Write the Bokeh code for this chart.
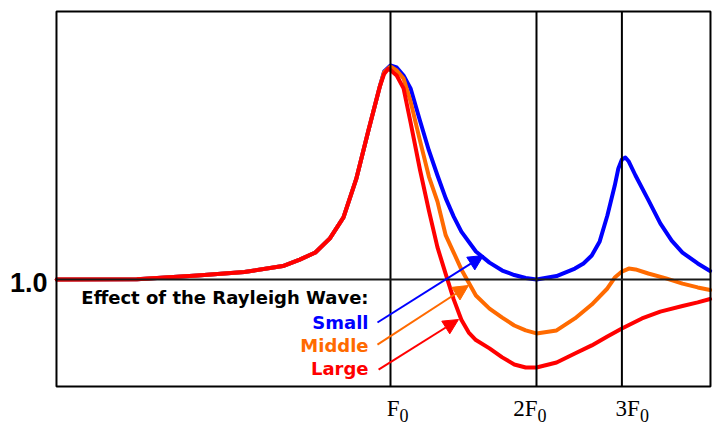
from bokeh.plotting import figure
from bokeh.models import Label, Arrow, NormalHead, Range1d, ColumnDataSource
from bokeh.embed import file_html
from bokeh.resources import INLINE

# Frequency ratio f / F0 (log axis) and amplification
freq_common = [0.205, 0.3, 0.4, 0.5, 0.6, 0.65, 0.7, 0.75, 0.8, 0.85, 0.9, 0.95]
amp_common = [1.0, 1.001, 1.019, 1.035, 1.063, 1.093, 1.126, 1.192, 1.29, 1.47, 1.694, 1.9]

freq_small = [0.97, 1.0, 1.03, 1.064, 1.1, 1.15, 1.2, 1.25, 1.3, 1.35, 1.4, 1.5, 1.6, 1.7,
              1.8, 1.9, 2.0, 2.2, 2.4, 2.5, 2.6, 2.7, 2.8, 2.9, 2.95, 3.0, 3.05, 3.1, 3.2,
              3.4, 3.6, 3.8, 4.0, 4.3, 4.56]
amp_small = [1.972, 2.0, 1.991, 1.953, 1.893, 1.743, 1.603, 1.486, 1.379, 1.294, 1.224, 1.131,
             1.079, 1.042, 1.021, 1.007, 1.0, 1.016, 1.051, 1.075, 1.112, 1.178, 1.299, 1.439,
             1.519, 1.561, 1.57, 1.551, 1.486, 1.372, 1.262, 1.182, 1.126, 1.075, 1.04]

freq_middle = [0.97, 1.0, 1.03, 1.064, 1.1, 1.15, 1.2, 1.25, 1.3, 1.35, 1.4, 1.5, 1.6, 1.7,
               1.8, 1.9, 2.0, 2.2, 2.4, 2.6, 2.8, 2.9, 3.0, 3.1, 3.2, 3.4, 3.7, 4.0, 4.3, 4.56]
amp_middle = [1.968, 1.995, 1.977, 1.939, 1.832, 1.65, 1.481, 1.364, 1.206, 1.126, 1.047,
              0.925, 0.864, 0.822, 0.785, 0.762, 0.748, 0.762, 0.818, 0.883, 0.958, 1.009,
              1.037, 1.051, 1.047, 1.028, 1.005, 0.981, 0.963, 0.951]

freq_large = [0.97, 0.99, 1.0, 1.03, 1.064, 1.1, 1.15, 1.2, 1.25, 1.3, 1.35, 1.4, 1.45, 1.5,
              1.6, 1.7, 1.8, 1.9, 2.0, 2.2, 2.4, 2.6, 2.8, 3.0, 3.3, 3.6, 4.0, 4.3, 4.56]
amp_large = [1.96, 1.985, 1.979, 1.953, 1.893, 1.734, 1.514, 1.322, 1.15, 1.025, 0.907,
             0.812, 0.752, 0.717, 0.678, 0.636, 0.603, 0.589, 0.589, 0.612, 0.654, 0.692,
             0.734, 0.771, 0.818, 0.85, 0.876, 0.893, 0.909]

tick_positions = [1, 2, 3]
tick_main = ["F", "2F", "3F"]
tick_sub = ["0", "0", "0"]
reference_level = 1.0
reference_label = "1.0"

series_names = ["Small", "Middle", "Large"]
series_colors = ["#0000ff", "#ff6a00", "#ff0000"]
title_text = "Effect of the Rayleigh Wave:"

# plotting box (frame drawn as lines) and full-canvas ranges
x_left, x_right = 0.2048, 4.5685
y_bottom, y_top = 0.5, 2.2523

p = figure(width=715, height=428, x_axis_type="log",
           x_axis_location=None, y_axis_location=None,
           x_range=Range1d(0.1570, 4.6786), y_range=Range1d(0.30374, 2.30374),
           output_backend="svg", toolbar_location=None, min_border=0)
p.outline_line_color = None
p.background_fill_color = "white"
p.border_fill_color = "white"
p.grid.visible = False

curves = [(freq_small, amp_small), (freq_middle, amp_middle), (freq_large, amp_large)]
for (fx, fy), col in zip(curves, series_colors):
    p.line(freq_common + fx, amp_common + fy, line_color=col, line_width=4,
           line_join="round", line_cap="round")

# reference lines on top of the curves
n = len(tick_positions)
p.segment(x0=tick_positions, y0=[y_bottom] * n, x1=tick_positions, y1=[y_top] * n,
          line_color="black", line_width=2)
p.segment(x0=[x_left], y0=[reference_level], x1=[x_right], y1=[reference_level],
          line_color="#1a1a1a", line_width=2)
p.quad(left=[x_left], right=[x_right], bottom=[y_bottom], top=[y_top],
       fill_color=None, line_color="black", line_width=2)

# arrows from legend words to curves
arrow_pts = [((0.940, 0.799), (1.555, 1.112)),
             ((0.940, 0.696), (1.448, 0.972)),
             ((0.945, 0.579), (1.381, 0.813))]
for (s, e), col in zip(arrow_pts, series_colors):
    p.add_layout(Arrow(end=NormalHead(size=15, fill_color=col, line_color=col),
                       x_start=s[0], y_start=s[1], x_end=e[0], y_end=e[1],
                       line_color=col, line_width=2))

p.add_layout(Label(x=0.901, y=0.9159, text=title_text, text_align="right",
                   text_baseline="alphabetic", text_font="DejaVu Sans",
                   text_font_style="bold", text_font_size="18px", text_color="black"))
word_y = [0.7977, 0.6902, 0.5841]
for name, col, yy in zip(series_names, series_colors, word_y):
    p.add_layout(Label(x=0.901, y=yy, text=name, text_align="right",
                       text_baseline="alphabetic", text_font="DejaVu Sans",
                       text_font_style="bold", text_font_size="18px", text_color=col))

# "1.0" level label
p.add_layout(Label(x=0.1963, y=0.9874, text=reference_label, text_align="right",
                   text_baseline="alphabetic", text_font="Liberation Sans",
                   text_font_style="bold", text_font_size="27px", text_color="black"))

# frequency tick labels: F with subscript 0
label_dx = [9, 1, 18]
src = ColumnDataSource(dict(x=tick_positions, main=tick_main, sub=tick_sub, dx=label_dx,
                            y_main=[0.3985] * n, y_sub=[0.3654] * n))
p.text(x="x", y="y_main", text="main", x_offset="dx", source=src,
       text_align="right", text_baseline="alphabetic",
       text_font={"value": "Liberation Serif"}, text_font_size="23px", text_color="black")
p.text(x="x", y="y_sub", text="sub", x_offset="dx", source=src,
       text_align="left", text_baseline="alphabetic",
       text_font={"value": "Liberation Serif"}, text_font_size="18px", text_color="black")

open("out.html", "w").write(file_html(p, INLINE))
